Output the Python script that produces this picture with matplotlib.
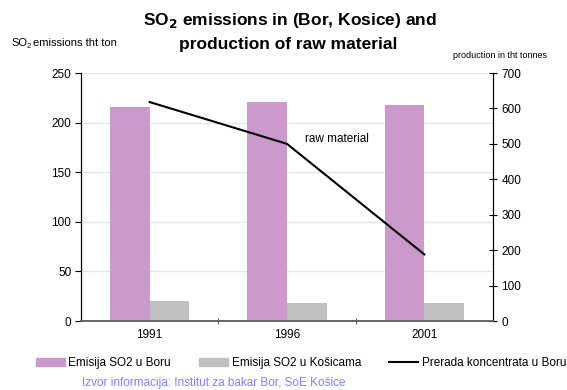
import matplotlib
matplotlib.use("Agg")
import matplotlib.pyplot as plt
import numpy as np
from matplotlib.lines import Line2D
from matplotlib.patches import Patch

plt.rcParams['font.family'] = ['Liberation Sans', 'DejaVu Sans']

years = ["1991", "1996", "2001"]
so2_bor = [216, 221, 218]
so2_kosice = [20, 18.5, 18.5]
raw_material = [618, 500, 188]

pink = "#cc99cc"
grey = "#c0c0c0"

W, H = 567, 390
fig = plt.figure(figsize=(W / 100, H / 100), dpi=100)
ax = fig.add_axes([81 / W, 1 - 321 / H, (493 - 81) / W, (321 - 73) / H])
ax2 = ax.twinx()

x = np.arange(len(years))
w = 0.29
ax.bar(x - w / 2, so2_bor, width=w, color=pink, zorder=2)
ax.bar(x + w / 2, so2_kosice, width=w, color=grey, zorder=2)
ax.set_xlim(-0.5, 2.5)
ax.set_ylim(0, 250)
ax.set_yticks(range(0, 251, 50))
ax.yaxis.grid(True, color="#e6e6e6", linewidth=1, zorder=0)
ax.set_axisbelow(True)

ax.set_xticks(x)
ax.set_xticklabels(years, fontsize=8.5)
ax.set_xticks([0.5, 1.5], minor=True)
ax.tick_params(axis='x', which='major', length=0, pad=6)
ax.tick_params(axis='x', which='minor', length=4, direction='inout', color="#333333")
ax.tick_params(axis='y', labelsize=8.5, length=4, direction='out', pad=3)

ax2.plot(x, raw_material, color="black", linewidth=1.5, zorder=3)
ax2.set_ylim(0, 700)
ax2.set_yticks(range(0, 701, 100))
ax2.tick_params(axis='y', labelsize=8.5, length=6, direction='inout', pad=3)

for a in (ax, ax2):
    a.spines['top'].set_visible(False)
    a.spines['left'].set_color("black")
    a.spines['right'].set_color("black")
    a.spines['bottom'].set_color("#666666")
    a.spines['bottom'].set_linewidth(1.2)

ax2.text(1.134, 514, "raw material", fontsize=8.5, ha='left', va='center')

# Titles and axis captions
fig.text(290 / W, 1 - 21 / H, r"SO$_\mathbf{2}$ emissions in (Bor, Kosice) and",
         ha='center', va='center', fontsize=12.5, fontweight='bold')
fig.text(288 / W, 1 - 45 / H, "production of raw material",
         ha='center', va='center', fontsize=12.5, fontweight='bold')
fig.text(11 / W, 1 - 43 / H, "SO", ha='left', va='center', fontsize=8)
fig.text(27 / W, 1 - 47 / H, "2", ha='left', va='center', fontsize=5.5)
fig.text(33 / W, 1 - 43 / H, "emissions tht ton", ha='left', va='center', fontsize=8)
fig.text(500 / W, 1 - 55 / H, "production in tht tonnes", ha='center', va='center', fontsize=6.5)

handles = [Patch(color=pink), Patch(color=grey), Line2D([0], [0], color="black", lw=1.5)]
labels = ["Emisija SO2 u Boru", "Emisija SO2 u Košicama", "Prerada koncentrata u Boru"]
fig.legend(handles, labels, loc='center', bbox_to_anchor=(301 / W, 1 - 363 / H), ncol=3,
           frameon=False, fontsize=8.5, handlelength=2.45, handleheight=0.6,
           handletextpad=0.3, columnspacing=2.4, borderpad=0, borderaxespad=0)

fig.text(214 / W, 1 - 383 / H, "Izvor informacija: Institut za bakar Bor, SoE Košice",
         ha='center', va='center', fontsize=8.5, color="#8080ff")

fig.savefig("out.png", dpi=100)
